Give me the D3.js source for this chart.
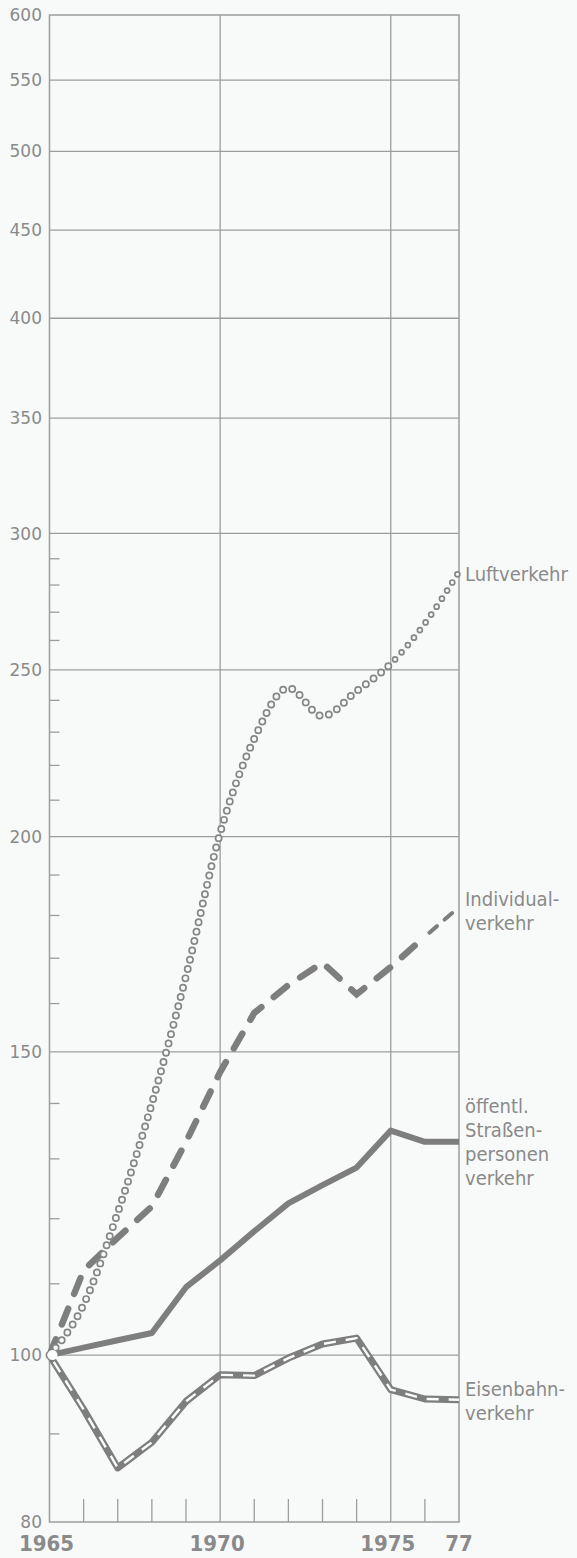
<!DOCTYPE html>
<html><head><meta charset="utf-8">
<script src="https://cdn.jsdelivr.net/npm/d3@7"></script>
<style>body{margin:0;background:#f8fafa}svg{display:block}</style>
</head><body><svg id="c" width="577" height="1558"></svg>
<script>
// ---- data ----
const years = [1965,1966,1967,1968,1969,1970,1971,1972,1973,1974,1975,1976,1977];
const luftverkehr = [100,107,121,140,166,201,228,244,235,243,252,266,285];
const individualverkehr = [100,112,117,122,133,146,158,164,169,162,168,175,182];
const strassenverkehr = [100,101,102,103,109.5,113.5,118,122.5,125.5,128.5,135,133,133];
const eisenbahnverkehr = [100,93,86,89,94,97.4,97.3,99.6,101.5,102.3,95.5,94.3,94.2];
const yLabelTicks = [80,100,150,200,250,300,350,400,450,500,550,600];
const yGridTicks = [100,150,200,250,300,350,400,450,500,550];
const yMinorTicks = [90,110,120,130,140,160,170,180,190,210,220,230,240,260,270,280,290];
const xLabelYears = [1965,1970,1975,1977];
const xLabels = ["1965","1970","1975","77"];
const xGridYears = [1970,1975];
const xMinorYears = [1966,1967,1968,1969,1971,1972,1973,1974,1976];
const seriesLabels = [
  {lines:["Luftverkehr"], top:581},
  {lines:["Individual-","verkehr"], top:906},
  {lines:["öffentl.","Straßen-","personen","verkehr"], top:1113},
  {lines:["Eisenbahn-","verkehr"], top:1396}
];

// ---- scales ----
const x = d3.scaleLinear().domain([1965,1977]).range([49.5,459]);
const y = d3.scaleLog().domain([80,600]).range([1522,15]);
const svg = d3.select("#c");
const grid = "#9c9c9c", ink = "#7e7e7e", txt = "#8a8a8a";

svg.append("rect").attr("width",577).attr("height",1558).attr("fill","#f8fafa");

// horizontal grid
svg.append("g").selectAll("line").data(yGridTicks).join("line")
  .attr("x1",x(1965)).attr("x2",x(1977)).attr("y1",d=>y(d)).attr("y2",d=>y(d))
  .attr("stroke",grid).attr("stroke-width",1.3);
// vertical grid
svg.append("g").selectAll("line").data(xGridYears).join("line")
  .attr("x1",d=>x(d)).attr("x2",d=>x(d)).attr("y1",y(600)).attr("y2",y(80))
  .attr("stroke",grid).attr("stroke-width",1.3);
// frame
svg.append("rect").attr("x",x(1965)).attr("y",y(600))
  .attr("width",x(1977)-x(1965)).attr("height",y(80)-y(600))
  .attr("fill","none").attr("stroke",grid).attr("stroke-width",1.5);
// minor y ticks
svg.append("g").selectAll("line").data(yMinorTicks).join("line")
  .attr("x1",x(1965)).attr("x2",x(1965)+10).attr("y1",d=>y(d)).attr("y2",d=>y(d))
  .attr("stroke",grid).attr("stroke-width",1.3);
// minor x ticks
svg.append("g").selectAll("line").data(xMinorYears).join("line")
  .attr("x1",d=>x(d)).attr("x2",d=>x(d)).attr("y1",y(80)).attr("y2",y(80)-23)
  .attr("stroke",grid).attr("stroke-width",1.3);

// y labels
svg.append("g").selectAll("text").data(yLabelTicks).join("text")
  .attr("x",42).attr("y",d=>y(d)).attr("dy","0.36em").attr("text-anchor","end")
  .attr("font-family","DejaVu Sans").attr("font-size",17).attr("fill",txt)
  .text(d=>d);
// x labels
svg.append("g").selectAll("text").data(xLabelYears).join("text")
  .attr("x",(d,i)=>x(d)-(i<3?3:0)).attr("y",1551).attr("text-anchor","middle")
  .attr("font-family","DejaVu Sans Condensed, DejaVu Sans").attr("font-stretch","condensed")
  .attr("font-weight","bold").attr("font-size",22).attr("fill",txt)
  .text((d,i)=>xLabels[i]);

const line = d3.line().x((d,i)=>x(years[i])).y(d=>y(d));

// Eisenbahn: gray with white dashes
svg.append("path").attr("d",line(eisenbahnverkehr)).attr("fill","none")
  .attr("stroke",ink).attr("stroke-width",7).attr("stroke-linejoin","round");
svg.append("path").attr("d",line(eisenbahnverkehr)).attr("fill","none")
  .attr("stroke","#fbfcfc").attr("stroke-width",2.4).attr("stroke-dasharray","12,10")
  .attr("stroke-dashoffset",-8).attr("stroke-linejoin","round");

// Straßenpersonenverkehr solid
svg.append("path").attr("d",line(strassenverkehr)).attr("fill","none")
  .attr("stroke",ink).attr("stroke-width",6).attr("stroke-linejoin","round");

// Individualverkehr dashed (thick until 1976, thinner after)
const nThick = 12;
svg.append("path").attr("d",line(individualverkehr.slice(0,nThick))).attr("fill","none")
  .attr("stroke",ink).attr("stroke-width",6.5).attr("stroke-linecap","round")
  .attr("stroke-dasharray","17,16");
svg.append("path")
  .attr("d",d3.line().x((d,i)=>x(years[i+nThick-1])).y(d=>y(d))(individualverkehr.slice(nThick-1)))
  .attr("fill","none").attr("stroke",ink).attr("stroke-width",4).attr("stroke-linecap","round")
  .attr("stroke-dasharray","10,10").attr("stroke-dashoffset",-6);

// Luftverkehr: open circles along curve
const lp = svg.append("path")
  .attr("d",d3.line().curve(d3.curveMonotoneX).x((d,i)=>x(years[i])).y(d=>y(d))(luftverkehr))
  .attr("fill","none").attr("stroke","none");
const node = lp.node(), L = node.getTotalLength();
const pts = [];
for(let l=0;l<=L;l+=9.6){ pts.push(node.getPointAtLength(l)); }
svg.append("g").selectAll("circle").data(pts).join("circle")
  .attr("cx",p=>p.x).attr("cy",p=>p.y)
  .attr("r",p=>p.x>x(1975)?2.5:3.1)
  .attr("fill","#f8fafa").attr("stroke","#868686").attr("stroke-width",1.7);

// start disc
svg.append("circle").attr("cx",x(1965)+3).attr("cy",y(100)).attr("r",5).attr("fill","#fbfcfc");

// series labels
const lg = svg.append("g").attr("font-family","DejaVu Sans Condensed, DejaVu Sans")
  .attr("font-stretch","condensed").attr("font-size",20).attr("fill",txt);
seriesLabels.forEach(s=>{
  const t = lg.append("text").attr("x",465).attr("y",s.top);
  s.lines.forEach((ln,i)=>t.append("tspan").attr("x",465).attr("dy",i?24:0).text(ln));
});
</script></body></html>
